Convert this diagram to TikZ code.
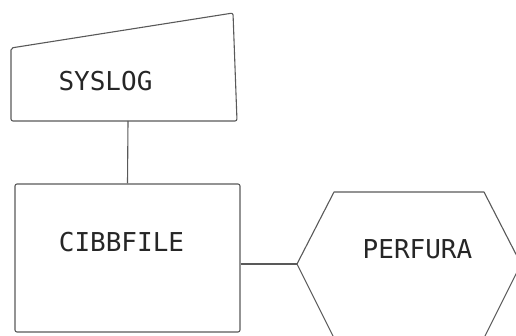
\documentclass[tikz,border=0pt]{standalone}
\usepackage{fontspec}
\newfontfamily\flowfont{DejaVu Sans Mono}
\usepackage{tikz}

\begin{document}
\begin{tikzpicture}[x=1pt,y=1pt,yscale=-1,
  line/.style={draw=black!65, line width=1.1pt, line join=round},
  lbl/.style={inner sep=0pt, text=black!85, font=\flowfont\fontsize{26}{26}\selectfont}]
\useasboundingbox (0,0) rectangle (516,336);

%Manual input [id:syslog]
\draw [line, rounded corners=2pt] (11,48) -- (233,13) -- (237,121) -- (11,121) -- cycle;
\coordinate (syslog-s) at (128,121);

%Rectangle [id:cibbfile]
\node [line, rounded corners=2pt, minimum width=225, minimum height=148, inner sep=0pt] (cibbfile) at (127.5,258) {};

%Hexagon [id:perfura]
\draw [line] (297,264) coordinate (perfura-w) -- (334,192) -- (484,192) -- (521,264) -- (484,338) -- (334,338) -- cycle;

%Straight Lines
\draw [line] (syslog-s) -- (cibbfile.north);
\draw [line] (cibbfile.east |- perfura-w) -- (perfura-w);

% Text Node
\node [lbl] (syslog) at (105.5,81.5) {SYSLOG};
% Text Node
\node [lbl] (cibbfile-txt) at (121.5,242) {CIBBFILE};
% Text Node
\node [lbl] (perfura) at (417.5,249.5) {PERFURA};

\end{tikzpicture}
\end{document}
